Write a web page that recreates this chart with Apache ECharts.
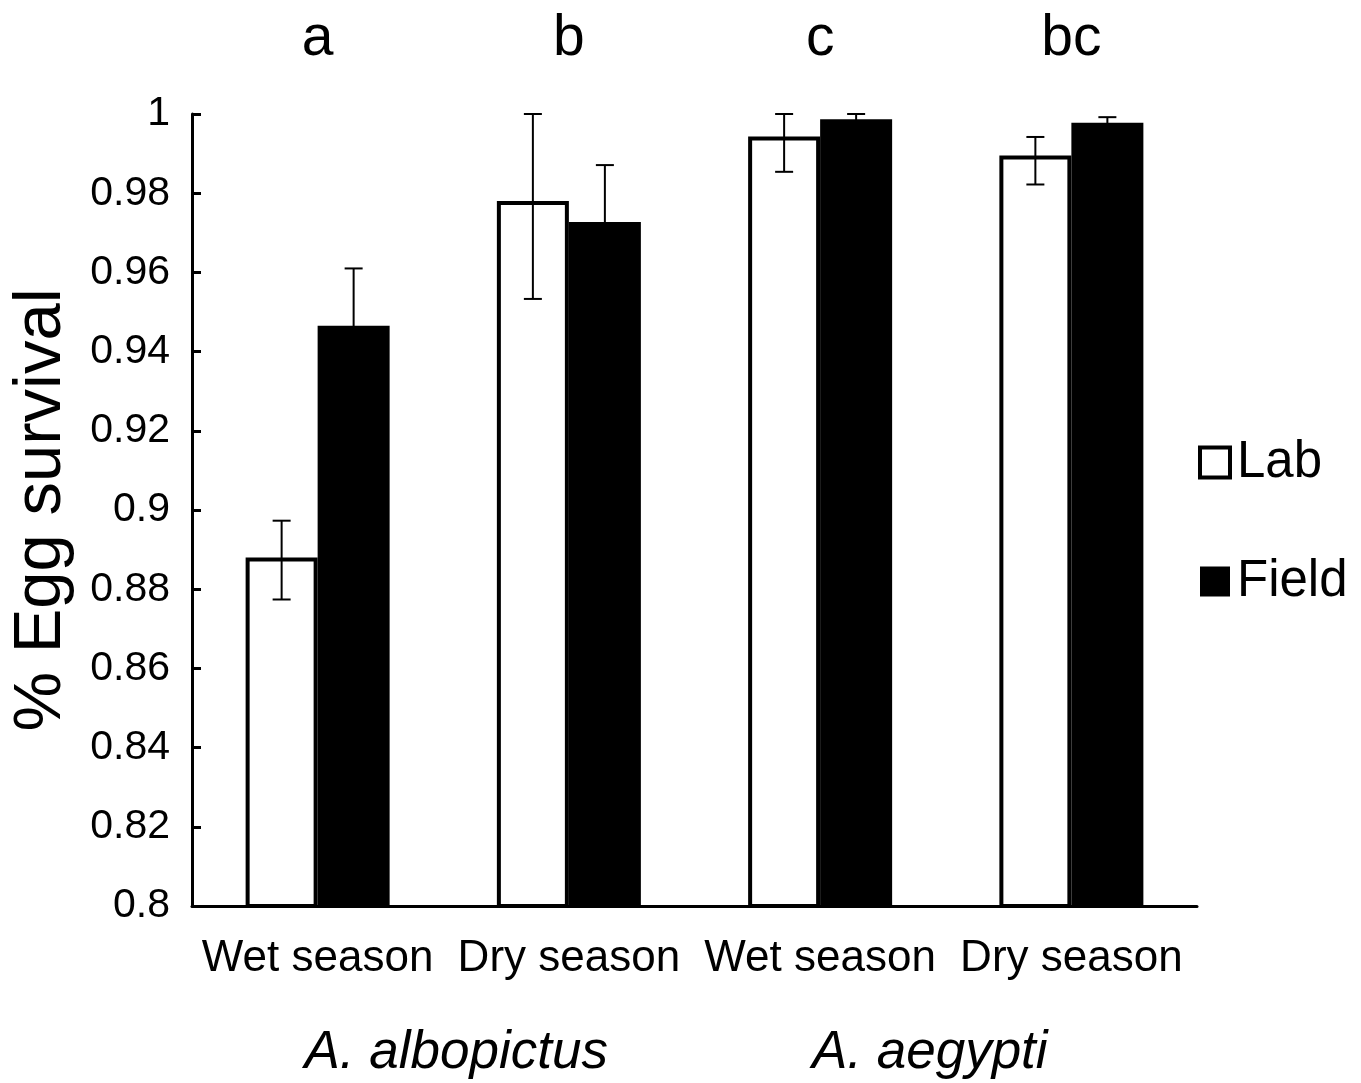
<!DOCTYPE html>
<html>
<head>
<meta charset="utf-8">
<script src="https://cdn.jsdelivr.net/npm/echarts@6/dist/echarts.min.js"></script>
<style>html,body{margin:0;padding:0;background:#fff}#c{width:1361px;height:1083px}</style>
</head>
<body>
<div id="c"></div>
<script>
var categories = ['Wet season', 'Dry season', 'Wet season', 'Dry season'];
var letters = ['a', 'b', 'c', 'bc'];
var species = ['A. albopictus', 'A. aegypti'];
var seriesNames = ['Lab', 'Field'];
var labValues = [0.888, 0.978, 0.9943, 0.9895];
var labLow = [0.8774, 0.9533, 0.9854, 0.9822];
var labHigh = [0.8973, 1.0, 1.0, 0.9942];
var fieldValues = [0.9465, 0.9727, 0.9987, 0.9978];
var fieldLow = [0.932, 0.9583, 0.9974, 0.9964];
var fieldHigh = [0.961, 0.9871, 1.0, 0.9992];
var yTicks = [0.8, 0.82, 0.84, 0.86, 0.88, 0.9, 0.92, 0.94, 0.96, 0.98, 1];

var FONT = 'Liberation Sans, Arial, sans-serif';
var BAR_W = 72;

function errData(low, high) {
  return low.map(function (l, i) { return [i, l, high[i]]; });
}
function errRender(offset) {
  return function (params, api) {
    var x = api.value(0);
    var p1 = api.coord([x, api.value(1)]);
    var p2 = api.coord([x, api.value(2)]);
    var cx = p1[0] + offset;
    var cap = 9;
    var st = { stroke: '#000', lineWidth: 2 };
    return {
      type: 'group',
      children: [
        { type: 'line', shape: { x1: cx, y1: p1[1], x2: cx, y2: p2[1] }, style: st },
        { type: 'line', shape: { x1: cx - cap, y1: p1[1], x2: cx + cap, y2: p1[1] }, style: st },
        { type: 'line', shape: { x1: cx - cap, y1: p2[1], x2: cx + cap, y2: p2[1] }, style: st }
      ]
    };
  };
}

var chart = echarts.init(document.getElementById('c'));
chart.setOption({
  backgroundColor: '#fff',
  animation: false,
  textStyle: { fontFamily: FONT, color: '#000' },
  grid: { left: 192, right: 164, top: 114, bottom: 177, containLabel: false, outerBoundsMode: 'none' },
  legend: {
    orient: 'vertical',
    left: 1193,
    top: 432,
    itemWidth: 30,
    itemHeight: 30,
    itemGap: 68,
    icon: 'rect',
    textStyle: { fontSize: 51, fontFamily: FONT, color: '#000', padding: [0, 0, 0, 2] },
    data: [
      { name: seriesNames[0], itemStyle: { color: '#fff', borderColor: '#000', borderWidth: 4 } },
      { name: seriesNames[1], itemStyle: { color: '#000', borderWidth: 0 } }
    ]
  },
  xAxis: [
    {
      type: 'category',
      data: categories,
      position: 'bottom',
      axisLine: { lineStyle: { color: '#000', width: 3 } },
      axisTick: { inside: true, length: 12, lineStyle: { color: '#000', width: 2 } },
      axisLabel: { fontSize: 44, fontFamily: FONT, color: '#000', margin: 31, interval: 0 }
    },
    {
      type: 'category',
      data: letters,
      position: 'top',
      gridIndex: 0,
      axisLine: { show: false },
      axisTick: { show: false },
      axisLabel: { fontSize: 57, fontFamily: FONT, color: '#000', margin: 46, interval: 0 }
    },
    {
      type: 'category',
      data: species,
      position: 'bottom',
      offset: 113,
      axisLine: { show: false },
      axisTick: { show: false },
      axisLabel: {
        interval: 0,
        formatter: function (v, i) { return i === 0 ? '{a|' + v + '}' : '{b|' + v + '}'; },
        rich: {
          a: { fontSize: 53, fontStyle: 'italic', fontFamily: FONT, color: '#000', padding: [0, 0, 0, 26] },
          b: { fontSize: 53, fontStyle: 'italic', fontFamily: FONT, color: '#000', padding: [0, 32, 0, 0] }
        }
      }
    }
  ],
  yAxis: {
    type: 'value',
    min: yTicks[0],
    max: yTicks[yTicks.length - 1],
    interval: 0.02,
    name: '% Egg survival',
    nameLocation: 'middle',
    nameGap: 117,
    nameTextStyle: { fontSize: 67, fontFamily: FONT, color: '#000' },
    axisLine: { show: true, lineStyle: { color: '#000', width: 3 } },
    axisTick: { show: true, inside: true, length: 9, lineStyle: { color: '#000', width: 3 } },
    splitLine: { show: false },
    axisLabel: {
      fontSize: 41, fontFamily: FONT, color: '#000', margin: 22,
      formatter: function (v) { return String(Math.round(v * 100) / 100); }
    }
  },
  series: [
    {
      name: seriesNames[0], type: 'bar', data: labValues, barWidth: BAR_W, barGap: '0%',
      itemStyle: { color: '#fff', borderColor: '#000', borderWidth: 4 }
    },
    {
      name: seriesNames[1], type: 'bar', data: fieldValues, barWidth: BAR_W, barGap: '0%',
      itemStyle: { color: '#000' }
    },
    {
      type: 'custom', name: 'labErr', data: errData(labLow, labHigh),
      renderItem: errRender(-BAR_W / 2), encode: { x: 0, y: [1, 2] }, z: 10, silent: true
    },
    {
      type: 'custom', name: 'fieldErr', data: errData(fieldLow, fieldHigh),
      renderItem: errRender(BAR_W / 2), encode: { x: 0, y: [1, 2] }, z: 10, silent: true
    }
  ]
});
</script>
</body>
</html>
